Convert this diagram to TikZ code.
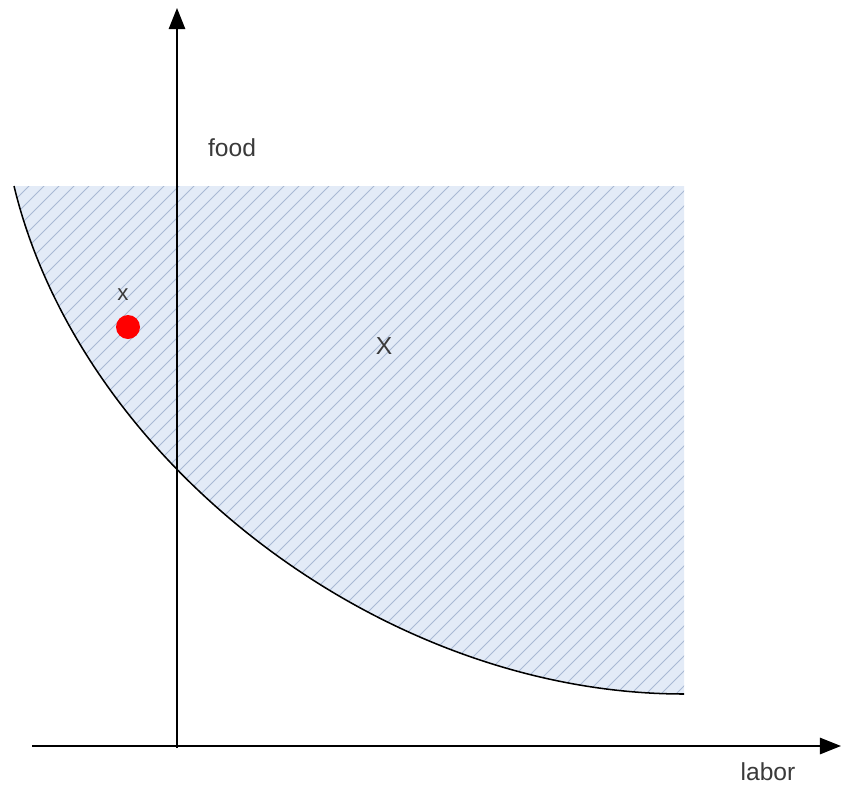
\documentclass[tikz,border=0pt]{standalone}
\usepackage{fontspec}
\setmainfont{Liberation Sans}
\usetikzlibrary{arrows.meta}
\definecolor{hatchfill}{HTML}{E3EBF7}
\definecolor{hatchline}{HTML}{A9B9D4}
\definecolor{labelgray}{HTML}{3A3A3A}
\definecolor{dotred}{HTML}{FF0000}

\begin{document}
\begin{tikzpicture}[x=0.03cm, y=-0.03cm,
  axis/.style={line width=1.4pt, -{Triangle[length=18pt, width=14pt]}},
  lbl/.style={text=labelgray, font=\fontsize{21}{25}\selectfont}]
  \useasboundingbox (0,0) rectangle (841,785);
  % Feasible set
  \coordinate (tl) at (14,186);
  \coordinate (tr) at (684,186);
  \coordinate (br) at (684,694);
  \fill[hatchfill] (tl) -- (tr) -- (br) .. controls (380,694) and (80,460) .. (tl) -- cycle;
  \begin{scope}
    \clip (tl) -- (tr) -- (br) .. controls (380,694) and (80,460) .. (tl) -- cycle;
    \foreach \k in {0,...,80}
      \draw[hatchline, line width=0.65pt] (\k*15-500,700) -- ++(520,-520);
  \end{scope}
  \draw[line width=1.3pt] (br) .. controls (380,694) and (80,460) .. (tl);
  % Axes
  \coordinate (xstart) at (32,746);
  \coordinate (xend) at (841,746);
  \coordinate (ystart) at (177,748);
  \coordinate (yend) at (177,8);
  \draw[axis] (xstart) -- (xend);
  \draw[axis] (ystart) -- (yend);
  % Labels
  \node[lbl] (food) at (232,148) {food};
  \node[lbl] (labor) at (768,772) {labor};
  \node[lbl] (bigX) at (384,346) {X};
  \node[lbl, font=\fontsize{19}{23}\selectfont] (smallx) at (123,295) {x};
  % Point
  \node[circle, fill=dotred, inner sep=0pt, minimum size=0.72cm] (pt) at (128,327) {};
\end{tikzpicture}
\end{document}
